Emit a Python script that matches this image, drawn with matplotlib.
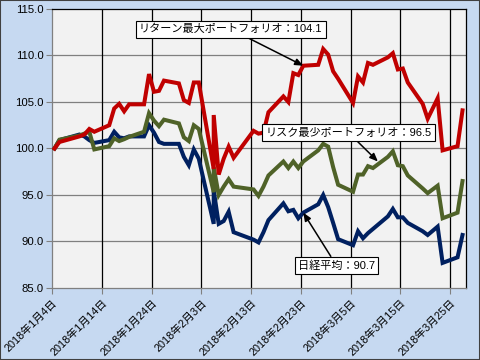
import matplotlib
matplotlib.use("Agg")
import matplotlib.pyplot as plt
from matplotlib.patches import Rectangle
import pandas as pd
import numpy as np

plt.rcParams['font.family'] = ['Liberation Sans', 'Noto Sans CJK JP']

# trading days (Feb 5 appears twice in the source sheet -> vertical spike)
dates = [
    "2018-01-04", "2018-01-05", "2018-01-09", "2018-01-10", "2018-01-11", "2018-01-12",
    "2018-01-15", "2018-01-16", "2018-01-17", "2018-01-18", "2018-01-19", "2018-01-22",
    "2018-01-23", "2018-01-24", "2018-01-25", "2018-01-26", "2018-01-29", "2018-01-30",
    "2018-01-31",
    "2018-02-01", "2018-02-02", "2018-02-05", "2018-02-05", "2018-02-06", "2018-02-07",
    "2018-02-08", "2018-02-09", "2018-02-13", "2018-02-14", "2018-02-15", "2018-02-16",
    "2018-02-19", "2018-02-20", "2018-02-21", "2018-02-22", "2018-02-23", "2018-02-26",
    "2018-02-27", "2018-02-28",
    "2018-03-01", "2018-03-02", "2018-03-05", "2018-03-06", "2018-03-07", "2018-03-08",
    "2018-03-09", "2018-03-12", "2018-03-13", "2018-03-14", "2018-03-15", "2018-03-16",
    "2018-03-19", "2018-03-20", "2018-03-22", "2018-03-23", "2018-03-26", "2018-03-27",
]

max_return = [
    100.0, 100.7, 101.3, 101.5, 102.1, 101.8, 102.5, 104.3, 104.8, 104.0, 104.75, 104.75,
    108.0, 106.1, 106.2, 107.3, 107.0, 105.2, 104.9,
    107.1, 107.1, 97.8, 103.6, 97.2, 98.9, 100.2, 99.0, 101.9, 101.6, 101.7, 103.9,
    105.6, 105.0, 108.1, 107.9, 108.9, 109.0, 110.7, 110.1,
    108.3, 107.5, 104.9, 107.75, 107.1, 109.2, 109.0, 109.8, 110.25, 108.5, 108.6, 107.1,
    104.8, 103.2, 105.4, 99.8, 100.25, 104.1,
]

min_risk = [
    100.0, 100.95, 101.4, 101.6, 101.8, 99.9, 100.25, 101.1, 100.8, 101.0, 101.25, 101.8,
    103.8, 103.0, 102.4, 103.1, 102.7, 101.2, 100.8,
    102.5, 102.1, 95.3, 98.0, 95.0, 95.9, 96.7, 95.9, 95.6, 94.9, 95.9, 97.1,
    98.6, 97.9, 98.6, 97.9, 98.6, 99.8, 100.5, 100.2,
    98.0, 96.1, 95.35, 97.2, 97.2, 98.1, 97.9, 99.1, 99.7, 98.2, 98.1, 97.1,
    95.7, 95.2, 96.0, 92.5, 93.1, 96.5,
]

nikkei = [
    100.0, 100.9, 101.5, 101.3, 100.9, 100.6, 100.9, 101.8, 101.2, 101.1, 101.3, 101.3,
    102.5, 101.7, 100.7, 100.5, 100.5, 99.1, 98.2,
    99.9, 98.9, 91.9, 95.5, 91.9, 92.2, 93.2, 91.0, 90.2, 89.9, 91.0, 92.3,
    94.1, 93.25, 93.4, 92.5, 93.1, 94.0, 95.0, 93.7,
    92.0, 90.25, 89.6, 91.1, 90.35, 90.9, 91.35, 92.7, 93.5, 92.6, 92.6, 92.0,
    91.1, 90.7, 91.6, 87.7, 88.3, 90.7,
]

tick_dates = ["2018-01-04", "2018-01-14", "2018-01-24", "2018-02-03", "2018-02-13",
              "2018-02-23", "2018-03-05", "2018-03-15", "2018-03-25"]

labels = ["リターン最大ポートフォリオ：104.1", "リスク最少ポートフォリオ：96.5", "日経平均：90.7"]

# points sit in the middle of each day slot
x = pd.to_datetime(dates) + pd.Timedelta(hours=12)
ticks = pd.to_datetime(tick_dates)

fig = plt.figure(figsize=(4.8, 3.6), dpi=100, facecolor="#C6D9F1")
ax = fig.add_axes([52 / 480, 1 - 288 / 360, 413.5 / 480, 279 / 360])
ax.set_facecolor("#F2F2F2")

ax.plot(x, nikkei, color="#002060", lw=2.9, solid_joinstyle="miter", zorder=3)
ax.plot(x, min_risk, color="#4F6228", lw=2.9, solid_joinstyle="miter", zorder=4)
ax.plot(x, max_return, color="#C00000", lw=2.9, solid_joinstyle="miter", zorder=5)

ax.set_ylim(85, 115)
ax.set_yticks(np.arange(85, 115.1, 5))
ax.yaxis.set_major_formatter(matplotlib.ticker.FormatStrFormatter("%.1f"))
ax.set_xlim(ticks[0], ticks[0] + pd.Timedelta(days=83.1))
ax.set_xticks(ticks)
ax.set_xticklabels([f"{d.year}年{d.month}月{d.day}日" for d in ticks],
                   rotation=45, ha="right", va="top", rotation_mode="anchor")

ax.tick_params(axis="both", labelsize=8.2, colors="#808080", labelcolor="black",
               length=4, width=0.8, pad=2)
ax.tick_params(axis="x", labelsize=7.8, pad=3)

# grid: grey horizontals, black verticals
for v in np.arange(90, 115, 5):
    ax.axhline(v, color="#808080", lw=0.9, zorder=1)
for t in ticks[1:]:
    ax.axvline(t, color="black", lw=0.9, zorder=1)

ax.spines["top"].set_color("black")
ax.spines["right"].set_color("black")
ax.spines["left"].set_color("#808080")
ax.spines["bottom"].set_color("#808080")
for s in ax.spines.values():
    s.set_linewidth(0.9)

box = dict(boxstyle="square,pad=0.3", fc="white", ec="black", lw=0.8)
arrow = dict(arrowstyle="-|>,head_length=0.6,head_width=0.25", color="black", lw=1.1,
             shrinkA=0, shrinkB=0)

ax.annotate(labels[0], xy=(x[35], max_return[35]), xytext=(0.432, 0.928),
            textcoords="axes fraction", ha="center", va="center", fontsize=8,
            bbox=box, arrowprops=arrow, zorder=10)
ax.annotate(labels[1], xy=(pd.Timestamp("2018-03-10 12:00"), 98.6), xytext=(0.717, 0.557),
            textcoords="axes fraction", ha="center", va="center", fontsize=8,
            bbox=box, arrowprops=arrow, zorder=10)
ax.annotate(labels[2], xy=(x[35], nikkei[35]), xytext=(0.688, 0.081),
            textcoords="axes fraction", ha="center", va="center", fontsize=8,
            bbox=box, arrowprops=arrow, zorder=10)

fig.patches.append(Rectangle((0, 0), 1, 1, transform=fig.transFigure, fill=False,
                             ec="#404040", lw=1.5))

fig.savefig("out.png", dpi=100, facecolor=fig.get_facecolor())
